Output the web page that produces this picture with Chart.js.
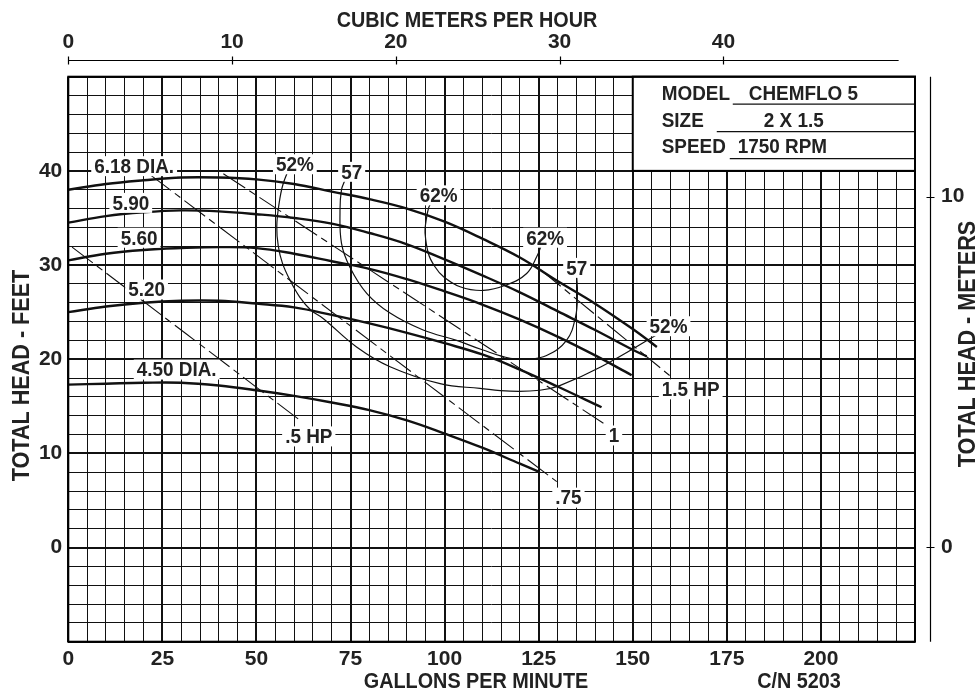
<!DOCTYPE html>
<html>
<head>
<meta charset="utf-8">
<script src="https://cdn.jsdelivr.net/npm/chart.js@4/dist/chart.umd.min.js"></script>
<style>
html,body{margin:0;padding:0;background:#fff}
canvas{display:block}
</style>
</head>
<body>
<canvas id="pumpChart" width="979" height="694"></canvas>
<script>
// Impeller curves (gpm, feet)
const dia618 = [[0,38.0],[10,38.6],[20,39.0],[30,39.3],[40,39.3],[50,39.1],[60,38.6],[70,37.8],[80,37.0],[90,36.0],[100,34.6],[110,32.8],[120,30.8],[130,28.3],[140,25.9],[150,23.2],[156.4,21.3]];
const dia590 = [[0,34.5],[10,35.2],[20,35.6],[30,35.8],[40,35.7],[50,35.4],[60,35.0],[70,34.4],[80,33.4],[90,32.2],[100,30.6],[110,28.9],[120,27.1],[130,25.1],[140,23.1],[150,21.0],[153.7,20.3]];
const dia560 = [[0,30.5],[10,31.2],[20,31.6],[30,31.8],[40,31.9],[50,31.8],[60,31.2],[70,30.4],[80,29.6],[90,28.5],[100,27.2],[110,25.8],[120,24.2],[130,22.4],[140,20.4],[149.7,18.3]];
const dia520 = [[0,25.0],[10,25.6],[20,26.0],[30,26.2],[40,26.2],[50,25.9],[60,25.5],[70,24.7],[80,23.8],[90,22.8],[100,21.7],[110,20.5],[120,18.9],[130,17.1],[141.7,14.9]];
const dia450 = [[0,17.3],[10,17.4],[20,17.5],[30,17.5],[40,17.2],[50,16.7],[60,16.1],[70,15.4],[80,14.6],[90,13.5],[100,12.1],[110,10.6],[120,8.9],[125.3,8.0]];

// Efficiency curves
const eff52 = [[58.6,40.2],[57.0,38.5],[56.0,36.5],[55.4,34.1],[55.8,32.0],[56.9,30.2],[58.9,28.4],[61.5,26.6],[64.5,25.2],[67.8,24.3],[76.6,21.3],[85.5,19.2],[98.8,17.4],[109.4,16.9],[117.4,16.6],[125.3,16.7],[130.6,17.2],[141.6,19.2],[156.4,22.6]];
const eff57 = [[73.5,39.0],[72.6,38.0],[72.2,35.8],[72.6,32.3],[74.8,29.8],[79.3,27.0],[85.5,24.9],[94.3,23.1],[103.2,22.0],[110,21.0],[117.4,20.1],[122,20.0],[127.1,20.4],[132.4,22.0],[134.8,24.5],[135.3,27.0],[135.1,28.8]];
const eff62 = [[96.6,36.8],[95.7,36.0],[95.0,34.5],[94.8,33.4],[95.7,31.2],[97.3,29.9],[99.6,28.8],[104.1,27.7],[110.3,27.3],[116.5,27.9],[121.8,29.1],[124.5,30.9],[125.8,32.2]];

// Horsepower lines
const hp05 = [[1.0,31.9],[61.6,13.5]];
const hp075 = [[21.7,39.6],[129.8,7.0]];
const hp1 = [[41.2,39.7],[142.2,13.2]];
const hp15 = [[125.5,29.5],[160.3,18.1]];

// Curve labels: text, gpm, feet
const curveLabels = [
  ['6.18 DIA.',17.5,40.5],['5.90',16.6,36.6],['5.60',18.8,32.9],['5.20',20.8,27.4],['4.50 DIA.',28.8,18.9],
  ['52%',60.2,40.7],['57',75.3,39.9],['62%',98.4,37.4],['62%',126.7,32.9],['57',135.1,29.7],['52%',159.5,23.5],
  ['1.5 HP',165.4,16.8],['1',145.0,11.9],['.5 HP',63.9,11.8],['.75',132.9,5.3]
];

// Tick labels shown
const gpmTicks = [0,25,50,75,100,125,150,175,200];
const feetTicks = [0,10,20,30,40];
const cmhTicks = [0,10,20,30,40];
const meterTicks = [0,10];

const FONT = "'Liberation Sans', Arial, sans-serif";
const INK = '#222';
Chart.defaults.font.family = FONT;
Chart.defaults.font.weight = 'bold';
Chart.defaults.color = INK;

const toPts = arr => arr.map(p => ({x:p[0], y:p[1]}));

function line(pts, width, dash){
  return {data: toPts(pts), showLine:true, pointRadius:0, borderColor:'#111', borderWidth:width,
    borderDash: dash || [], tension: 0.4, fill:false, xAxisID:'x', yAxisID:'y'};
}

const datasets = [
  line(dia618,2.4), line(dia590,2.4), line(dia560,2.4), line(dia520,2.4), line(dia450,2.4),
  line(eff52,1.2), line(eff57,1.2), line(eff62,1.2),
  line(hp05,1.1,[26,5,7,5]), line(hp075,1.1,[26,5,7,5]), line(hp1,1.1,[26,5,7,5]), line(hp15,1.1,[26,5,7,5])
];

// narrow drafting-style text
const SQ = 0.9;
function txt(ctx, s, x, y, size, align){
  ctx.save();
  ctx.font = 'bold ' + size + 'px ' + FONT;
  ctx.textAlign = align || 'center';
  ctx.textBaseline = 'middle';
  ctx.translate(x, y);
  ctx.scale(SQ, 1);
  ctx.fillText(s, 0, 0);
  ctx.restore();
}
function textWidth(ctx, s, size){
  ctx.font = 'bold ' + size + 'px ' + FONT;
  return ctx.measureText(s).width * SQ;
}

const overlay = {
  id:'overlay',
  afterDatasetsDraw(chart){
    const {ctx, chartArea:a, scales} = chart;
    const x = scales.x, y = scales.y, x2 = scales.x2, y2 = scales.y2;
    ctx.save();

    // curve labels with white backing
    curveLabels.forEach(l => {
      const px = x.getPixelForValue(l[1]), py = y.getPixelForValue(l[2]);
      const w = textWidth(ctx, l[0], 21);
      ctx.fillStyle = '#fff';
      ctx.fillRect(px - w/2 - 3, py - 10, w + 6, 20);
      ctx.fillStyle = INK;
      txt(ctx, l[0], px, py + 1, 21);
    });

    // model box
    const bx = x.getPixelForValue(150), by = y.getPixelForValue(40);
    ctx.fillStyle = '#fff';
    ctx.fillRect(bx, a.top, a.right - bx, by - a.top);
    ctx.strokeStyle = '#000';
    ctx.lineWidth = 2;
    ctx.strokeRect(bx, a.top, a.right - bx, by - a.top);
    ctx.fillStyle = INK;
    txt(ctx, 'MODEL', bx + 29, a.top + 18, 21, 'left');
    txt(ctx, 'CHEMFLO 5', bx + 116, a.top + 18, 21, 'left');
    txt(ctx, 'SIZE', bx + 29, a.top + 45, 21, 'left');
    txt(ctx, '2 X 1.5', bx + 161, a.top + 45, 21, 'center');
    txt(ctx, 'SPEED', bx + 29, a.top + 71, 21, 'left');
    txt(ctx, '1750 RPM', bx + 105, a.top + 71, 21, 'left');
    ctx.lineWidth = 1.2;
    ctx.strokeStyle = '#111';
    [[100,27.5],[84,55],[97,82]].forEach(u => {
      ctx.beginPath();
      ctx.moveTo(bx + u[0], a.top + u[1]);
      ctx.lineTo(a.right, a.top + u[1]);
      ctx.stroke();
    });

    // plot frame
    ctx.lineWidth = 2;
    ctx.strokeStyle = '#000';
    ctx.strokeRect(a.left, a.top, a.right - a.left, a.bottom - a.top);

    // top axis line (m3/h)
    const ty = 60.5;
    ctx.lineWidth = 1.2;
    ctx.beginPath();
    ctx.moveTo(x2.getPixelForValue(0), ty);
    ctx.lineTo(x2.getPixelForValue(50.7), ty);
    cmhTicks.forEach(v => {
      const px = Math.round(x2.getPixelForValue(v)) + 0.5;
      ctx.moveTo(px, ty - 4); ctx.lineTo(px, ty + 4);
    });
    ctx.stroke();

    // right axis line (meters)
    const rx = 930.5;
    ctx.beginPath();
    ctx.moveTo(rx, a.top);
    ctx.lineTo(rx, a.bottom);
    meterTicks.forEach(v => {
      const py = Math.round(y2.getPixelForValue(v)) + 0.5;
      ctx.moveTo(rx - 4, py); ctx.lineTo(rx + 4, py);
    });
    ctx.stroke();

    // titles
    ctx.fillStyle = INK;
    txt(ctx, 'CUBIC METERS PER HOUR', 467, 21, 22);
    txt(ctx, 'GALLONS PER MINUTE', 476, 682, 22);
    txt(ctx, 'C/N 5203', 799, 682, 22);
    ctx.save();
    ctx.translate(22.5, 375.5);
    ctx.rotate(-Math.PI/2);
    txt(ctx, 'TOTAL HEAD - FEET', 0, 0, 24);
    ctx.restore();
    ctx.save();
    ctx.translate(968.5, 344);
    ctx.rotate(-Math.PI/2);
    txt(ctx, 'TOTAL HEAD - METERS', 0, 0, 24);
    ctx.restore();

    ctx.restore();
  }
};

const gridWidth = step => c => (c.tick && Math.abs(c.tick.value % step) < 1e-6) ? 2 : 1;

new Chart(document.getElementById('pumpChart'), {
  type:'scatter',
  data:{datasets: datasets},
  options:{
    responsive:false,
    animation:false,
    devicePixelRatio:1,
    layout:{padding:0},
    plugins:{legend:{display:false}, tooltip:{enabled:false}},
    scales:{
      x:{type:'linear', position:'bottom', min:0, max:225,
        afterFit: s => { s.height = 52.3; },
        border:{display:false},
        grid:{color:'#111', lineWidth: gridWidth(25), drawTicks:false},
        ticks:{stepSize:5, autoSkip:false, maxRotation:0, padding:5, font:{size:21, weight:'bold'},
          callback: v => gpmTicks.includes(v) ? String(v) : ''}},
      y:{type:'linear', position:'left', min:-10, max:50,
        afterFit: s => { s.width = 68.3; },
        border:{display:false},
        grid:{color:'#111', lineWidth: gridWidth(10), drawTicks:false},
        ticks:{stepSize:2, autoSkip:false, padding:6, font:{size:21, weight:'bold'},
          callback: v => feetTicks.includes(v) ? String(v) : ''}},
      x2:{type:'linear', position:'top', min:0, max:51.7,
        afterFit: s => { s.height = 76.7; },
        border:{display:false},
        grid:{display:false, drawTicks:false},
        ticks:{stepSize:10, autoSkip:false, maxRotation:0, padding:22, font:{size:21, weight:'bold'},
          callback: v => cmhTicks.includes(v) ? String(v) : ''}},
      y2:{type:'linear', position:'right', min:-2.69, max:13.42,
        afterFit: s => { s.width = 64; },
        afterBuildTicks: s => { s.ticks = meterTicks.map(v => ({value:v})); },
        border:{display:false},
        grid:{display:false, drawTicks:false},
        ticks:{padding:26, font:{size:21, weight:'bold'}}}
    }
  },
  plugins:[overlay]
});
</script>
</body>
</html>
